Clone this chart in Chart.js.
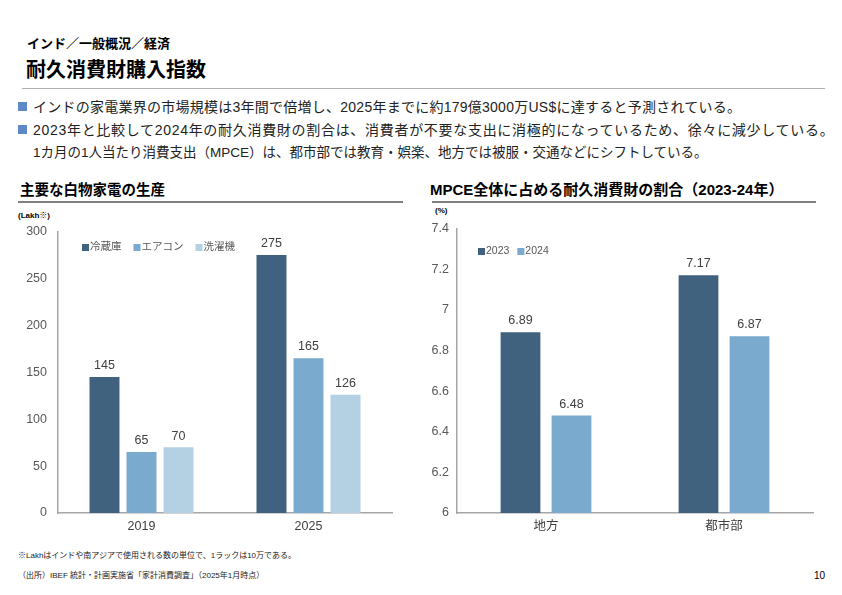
<!DOCTYPE html>
<html>
<head>
<meta charset="utf-8">
<script src="https://cdn.jsdelivr.net/npm/chart.js@4.4.1/dist/chart.umd.min.js"></script>
<style>
  body { margin: 0; width: 842px; height: 595px; background: #fff; position: relative; overflow: hidden;
         font-family: "Liberation Sans", "Noto Sans CJK JP", sans-serif; color: #000; }
  .abs { position: absolute; white-space: nowrap; }
  #crumb { left: 27px; top: 33px; font-size: 13px; font-weight: bold; }
  #title { left: 26px; top: 54px; font-size: 20px; font-weight: bold; }
  #topline { left: 22px; top: 88px; width: 803px; height: 1px; background: #b0b0b0; }
  .bullet { left: 33px; font-size: 14px; color: #222; }
  .sq { position: absolute; left: 18px; width: 9px; height: 9px; background: #5f89c6; }
  .ctitle { top: 178px; font-size: 14.5px; font-weight: bold; }
  .cline { top: 201px; height: 2px; background: #7f7f7f; }
  .unit { font-size: 8px; font-weight: bold; }
  .note { left: 18px; font-size: 8px; color: #222; }
  canvas { position: absolute; }
</style>
</head>
<body>
<div class="abs" id="crumb">インド／一般概況／経済</div>
<div class="abs" id="title">耐久消費財購入指数</div>
<div class="abs" id="topline"></div>

<div class="sq" style="top:102px"></div>
<div class="abs bullet" style="top:96px; letter-spacing:0.25px">インドの家電業界の市場規模は3年間で倍増し、2025年までに約179億3000万US$に達すると予測されている。</div>
<div class="sq" style="top:125px"></div>
<div class="abs bullet" style="top:119px; letter-spacing:0.7px">2023年と比較して2024年の耐久消費財の割合は、消費者が不要な支出に消極的になっているため、徐々に減少している。</div>
<div class="abs bullet" style="top:141px; font-size:13.5px">1カ月の1人当たり消費支出（MPCE）は、都市部では教育・娯楽、地方では被服・交通などにシフトしている。</div>

<div class="abs ctitle" style="left:20px">主要な白物家電の生産</div>
<div class="abs cline" style="left:18px; width:385px"></div>
<div class="abs ctitle" style="left:430px; font-size:15px">MPCE全体に占める耐久消費財の割合（2023-24年）</div>
<div class="abs cline" style="left:432px; width:384px"></div>

<div class="abs unit" style="left:18px; top:209px">(Lakh※)</div>
<div class="abs unit" style="left:435px; top:206px">(%)</div>

<canvas id="left" width="390" height="328" style="left:10px; top:213px"></canvas>
<canvas id="right" width="400" height="328" style="left:420px; top:213px"></canvas>

<div class="abs note" style="top:549px">※Lakhはインドや南アジアで使用される数の単位で、1ラックは10万である。</div>
<div class="abs note" style="top:569px">（出所）IBEF 統計・計画実施省「家計消費調査」（2025年1月時点）</div>
<div class="abs" style="left:814px; top:570px; font-size:10px">10</div>

<script>
// left chart: white goods production (Lakh)
const years = ["2019", "2025"];
const fridge = [145, 275];
const aircon = [65, 165];
const washer = [70, 126];
const leftTicks = [0, 50, 100, 150, 200, 250, 300];

// right chart: durable goods share of MPCE (%)
const regions = ["地方", "都市部"];
const share2023 = [6.89, 7.17];
const share2024 = [6.48, 6.87];

const dark = "#41627e";
const mid = "#7aaacd";
const light = "#b4d0e3";
const font = "'Liberation Sans', 'Noto Sans CJK JP', sans-serif";

// draws values above each bar
const barLabels = {
  id: "barLabels",
  afterDatasetsDraw(chart, args, opts) {
    const ctx = chart.ctx;
    ctx.save();
    ctx.font = "12.5px " + font;
    ctx.fillStyle = "#404040";
    ctx.textAlign = "center";
    ctx.textBaseline = "bottom";
    chart.data.datasets.forEach((ds, i) => {
      chart.getDatasetMeta(i).data.forEach((bar, j) => {
        ctx.fillText(ds.data[j], bar.x, bar.y - 5);
      });
    });
    ctx.restore();
  }
};

// legend drawn inside the plot area
const innerLegend = {
  id: "innerLegend",
  afterDraw(chart, args, opts) {
    const ctx = chart.ctx;
    ctx.save();
    ctx.font = "10.5px " + font;
    ctx.textBaseline = "middle";
    let x = chart.chartArea.left + opts.x;
    const y = chart.chartArea.top + opts.y;
    chart.data.datasets.forEach((ds) => {
      ctx.fillStyle = ds.backgroundColor;
      ctx.fillRect(x, y - 3.5, 7, 7);
      x += 8;
      ctx.fillStyle = "#595959";
      ctx.fillText(ds.label, x, y);
      x += ctx.measureText(ds.label).width + opts.gap;
    });
    ctx.restore();
  }
};

function axes(min, max, step, yWidth, yPad, fmt) {
  return {
    x: {
      grid: { display: false, drawTicks: false },
      border: { color: "#a6a6a6", width: 1.5 },
      ticks: { color: "#404040", font: { size: 12.5, family: font }, padding: 6 },
      afterFit: (s) => { s.height = 28; }
    },
    y: {
      min: min, max: max,
      grid: { display: false, drawTicks: false },
      border: { color: "#a6a6a6", width: 1.5 },
      ticks: { stepSize: step, color: "#595959", font: { size: 12.5, family: font }, padding: yPad, callback: fmt },
      afterFit: (s) => { s.width = yWidth; }
    }
  };
}

new Chart(document.getElementById("left"), {
  type: "bar",
  data: {
    labels: years,
    datasets: [
      { label: "冷蔵庫", data: fridge, backgroundColor: dark },
      { label: "エアコン", data: aircon, backgroundColor: mid },
      { label: "洗濯機", data: washer, backgroundColor: light }
    ]
  },
  options: {
    responsive: false,
    animation: false,
    categoryPercentage: 0.665,
    barPercentage: 0.81,
    layout: { padding: { top: 2, right: 8, left: 0, bottom: 0 } },
    plugins: {
      legend: { display: false },
      tooltip: { enabled: false },
      innerLegend: { x: 24, y: 16, gap: 12 }
    },
    scales: axes(0, 300, 50, 48, 11, (v) => leftTicks.includes(v) ? v : "")
  },
  plugins: [barLabels, innerLegend]
});

new Chart(document.getElementById("right"), {
  type: "bar",
  data: {
    labels: regions,
    datasets: [
      { label: "2023", data: share2023, backgroundColor: dark },
      { label: "2024", data: share2024, backgroundColor: mid }
    ]
  },
  options: {
    responsive: false,
    animation: false,
    categoryPercentage: 0.573,
    barPercentage: 0.78,
    layout: { padding: { top: 2, right: 7, left: 0, bottom: 0 } },
    plugins: {
      legend: { display: false },
      tooltip: { enabled: false },
      innerLegend: { x: 21, y: 23, gap: 8 }
    },
    scales: axes(6, 7.4, 0.2, 37, 8, (v) => parseFloat(v.toFixed(1)))
  },
  plugins: [barLabels, innerLegend]
});
</script>
</body>
</html>
